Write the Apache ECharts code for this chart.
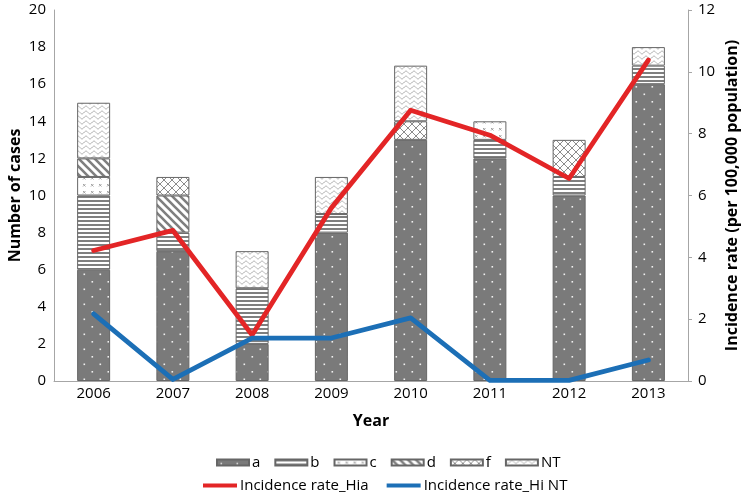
<!DOCTYPE html>
<html>
<head>
<meta charset="utf-8">
<script src="https://cdn.jsdelivr.net/npm/echarts@6/dist/echarts.min.js"></script>
<style>
  html, body { margin: 0; padding: 0; background: #fff; }
  #chart { width: 744px; height: 497px; }
</style>
</head>
<body>
<div id="chart"></div>
<script>
// categories and values
var years = ["2006", "2007", "2008", "2009", "2010", "2011", "2012", "2013"];
var caseA  = [6, 7, 2, 8, 13, 12, 10, 16];
var caseB  = [4, 1, 3, 1, 0, 1, 1, 1];
var caseC  = [1, 0, 0, 0, 0, 1, 0, 0];
var caseD  = [1, 2, 0, 0, 0, 0, 0, 0];
var caseF  = [0, 1, 0, 0, 1, 0, 2, 0];
var caseNT = [3, 0, 2, 2, 3, 0, 0, 1];
var rateHia  = [4.22, 4.87, 1.49, 5.6, 8.76, 7.95, 6.55, 10.38];
var rateHiNT = [2.17, 0.05, 1.39, 1.39, 2.04, 0.02, 0.02, 0.68];

var FONT = "'Open Sans', 'DejaVu Sans', sans-serif";
var GRAY = "#7f7f7f";

// small canvas tiles used as fill patterns
function pattern(w, h, draw) {
  var c = document.createElement("canvas");
  c.width = w;
  c.height = h;
  var ctx = c.getContext("2d");
  ctx.fillStyle = "#fff";
  ctx.fillRect(0, 0, w, h);
  draw(ctx, w, h);
  return { image: c, repeat: "repeat" };
}

var patDots = pattern(16, 15, function (ctx) {
  ctx.fillStyle = "#7a7a7a";
  ctx.fillRect(0, 0, 16, 15);
  ctx.fillStyle = "#f0f0f0";
  ctx.fillRect(3.5, 3.5, 1.6, 1.6);
  ctx.fillRect(11.5, 11, 1.6, 1.6);
});
var patHoriz = pattern(4, 4, function (ctx) {
  ctx.fillStyle = GRAY;
  ctx.fillRect(0, 0, 4, 2);
});
var patX = pattern(8, 7, function (ctx) {
  ctx.strokeStyle = "#999";
  ctx.lineWidth = 0.9;
  ctx.beginPath();
  ctx.moveTo(3, 2); ctx.lineTo(5.5, 4.5);
  ctx.moveTo(5.5, 2); ctx.lineTo(3, 4.5);
  ctx.stroke();
});
var patDiag = pattern(8, 8, function (ctx) {
  ctx.strokeStyle = GRAY;
  ctx.lineWidth = 2.6;
  ctx.beginPath();
  for (var x = -8; x <= 8; x += 8) {
    ctx.moveTo(x - 1, -1);
    ctx.lineTo(x + 9, 9);
  }
  ctx.stroke();
});
var patCross = pattern(8, 8, function (ctx) {
  ctx.strokeStyle = "#8c8c8c";
  ctx.lineWidth = 1;
  ctx.beginPath();
  ctx.moveTo(0, 0); ctx.lineTo(8, 8);
  ctx.moveTo(8, 0); ctx.lineTo(0, 8);
  ctx.stroke();
});
var patWave = pattern(8, 5, function (ctx) {
  ctx.strokeStyle = "#a0a0a0";
  ctx.lineWidth = 0.9;
  ctx.beginPath();
  for (var x = 0; x <= 8; x += 0.5) {
    var y = 2.5 + 1.4 * Math.sin(2 * Math.PI * x / 8);
    if (x === 0) ctx.moveTo(x, y); else ctx.lineTo(x, y);
  }
  ctx.stroke();
});

function stackBar(name, data, fill) {
  return {
    name: name,
    type: "bar",
    stack: "cases",
    yAxisIndex: 0,
    barWidth: 33,
    data: data.map(function (v) { return v === 0 ? null : v; }),
    itemStyle: { color: fill, borderColor: "#666", borderWidth: 1 }
  };
}

function rateLine(name, data, color) {
  return {
    name: name,
    type: "line",
    yAxisIndex: 1,
    symbol: "none",
    z: 5,
    data: data,
    itemStyle: { color: color },
    lineStyle: { color: color, width: 4.8, cap: "round", join: "round" }
  };
}

var chart = echarts.init(document.getElementById("chart"));
var option = {
  backgroundColor: "#fff",
  animation: false,
  textStyle: { fontFamily: FONT },
  grid: { left: 54, right: 56, top: 10, bottom: 116, outerBoundsMode: "none", containLabel: false },
  legend: [
    {
      data: ["a", "b", "c", "d", "f", "NT"],
      left: 216,
      top: 455,
      padding: 0,
      icon: "rect",
      itemWidth: 32,
      itemHeight: 6,
      itemGap: 14,
      textStyle: { fontFamily: FONT, fontSize: 15, color: "#000", padding: [0, 0, 0, -2] }
    },
    {
      data: ["Incidence rate_Hia", "Incidence rate_Hi NT"],
      left: 203,
      top: 478,
      padding: 0,
      icon: "rect",
      itemWidth: 34,
      itemHeight: 4,
      itemGap: 18,
      textStyle: { fontFamily: FONT, fontSize: 15, color: "#000", padding: [0, 0, 0, -2] }
    }
  ],
  xAxis: {
    type: "category",
    data: years,
    name: "Year",
    nameLocation: "middle",
    nameGap: 32,
    nameMoveOverlap: false,
    nameTextStyle: { fontFamily: FONT, fontSize: 16, fontWeight: "bold", color: "#000" },
    axisLine: { lineStyle: { color: "#a6a6a6", width: 1 } },
    axisTick: { show: false },
    axisLabel: { fontFamily: FONT, fontSize: 15, color: "#000", margin: 5 }
  },
  yAxis: [
    {
      type: "value",
      min: 0,
      max: 20,
      interval: 2,
      name: "Number of cases",
      nameLocation: "middle",
      nameGap: 31,
      nameMoveOverlap: false,
      nameTextStyle: { fontFamily: FONT, fontSize: 16, fontWeight: "bold", color: "#000" },
      axisLine: { show: true, lineStyle: { color: "#a6a6a6", width: 1 } },
      axisTick: { show: false },
      splitLine: { show: false },
      axisLabel: { fontFamily: FONT, fontSize: 15, color: "#000", margin: 8 }
    },
    {
      type: "value",
      min: 0,
      max: 12,
      interval: 2,
      position: "right",
      name: "Incidence rate (per 100,000 population)",
      nameLocation: "middle",
      nameGap: 36,
      nameRotate: 90,
      nameMoveOverlap: false,
      nameTextStyle: { fontFamily: FONT, fontSize: 16, fontWeight: "bold", color: "#000" },
      axisLine: { show: true, lineStyle: { color: "#a6a6a6", width: 1 } },
      axisTick: { show: true, length: 4, lineStyle: { color: "#a6a6a6" } },
      splitLine: { show: false },
      axisLabel: { fontFamily: FONT, fontSize: 15, color: "#000", margin: 10 }
    }
  ],
  series: [
    stackBar("a", caseA, patDots),
    stackBar("b", caseB, patHoriz),
    stackBar("c", caseC, patX),
    stackBar("d", caseD, patDiag),
    stackBar("f", caseF, patCross),
    stackBar("NT", caseNT, patWave),
    rateLine("Incidence rate_Hia", rateHia, "#e32526"),
    rateLine("Incidence rate_Hi NT", rateHiNT, "#1c6fb6")
  ]
};
chart.setOption(option);
</script>
</body>
</html>
